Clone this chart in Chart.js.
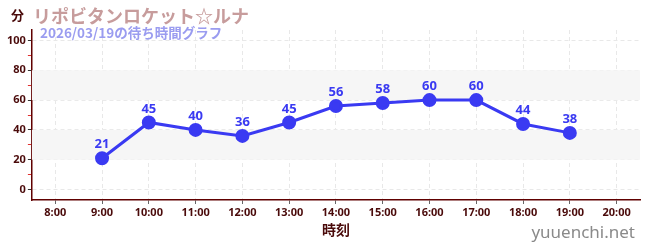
<!DOCTYPE html>
<html>
<head>
<meta charset="utf-8">
<script src="https://cdn.jsdelivr.net/npm/chart.js@4/dist/chart.umd.min.js"></script>
<style>
  body { margin: 0; background: #fff; font-family: "Noto Sans CJK JP", "Noto Sans", sans-serif; }
  #wrap { position: relative; width: 650px; height: 250px; }
  .lbl { position: absolute; white-space: nowrap; }
  #unit { left: 11px; top: 5px; font-size: 13px; font-weight: bold; color: #4a0a0a; }
  #title { left: 33px; top: 2px; font-size: 18px; font-weight: bold; color: #c79c9c; }
  #sub { left: 40px; top: 22px; font-size: 13.5px; font-weight: bold; color: #9a9cf0; }
  #site { right: 15px; top: 220px; font-size: 17px; color: #8a8a8a; font-family: "Noto Sans", sans-serif; }
</style>
</head>
<body>
<div id="wrap">
  <canvas id="line-chart" width="650" height="250"></canvas>
  <div class="lbl" id="unit">分</div>
  <div class="lbl" id="title">リポビタンロケット☆ルナ</div>
  <div class="lbl" id="sub">2026/03/19の待ち時間グラフ</div>
  <div class="lbl" id="site">yuuenchi.net</div>
</div>
<script>
// data
var hours = ["8:00", "9:00", "10:00", "11:00", "12:00", "13:00", "14:00", "15:00", "16:00", "17:00", "18:00", "19:00", "20:00"];
var waits = [null, 21, 45, 40, 36, 45, 56, 58, 60, 60, 44, 38, null];
var yTicks = [0, 10, 20, 30, 40, 50, 60, 70, 80, 90, 100];
var bands = [[20, 40], [60, 80]];

var dark = "#4a0a0a";
var blue = "#3a3af2";

// gray stripes behind the plot
var stripes = {
  id: "stripes",
  beforeDatasetsDraw: function(chart) {
    var ctx = chart.ctx, y = chart.scales.y, a = chart.chartArea;
    ctx.save();
    ctx.fillStyle = "#f6f6f6";
    bands.forEach(function(b) {
      var top = y.getPixelForValue(b[1]), bot = y.getPixelForValue(b[0]);
      ctx.fillRect(a.left, top, a.right - a.left, bot - top);
    });
    ctx.restore();
  }
};

// value labels above points
var valueLabels = {
  id: "valueLabels",
  afterDatasetsDraw: function(chart) {
    var ctx = chart.ctx;
    var meta = chart.getDatasetMeta(0);
    ctx.save();
    ctx.fillStyle = blue;
    ctx.font = "bold 13px 'Noto Sans', sans-serif";
    ctx.textAlign = "center";
    ctx.textBaseline = "bottom";
    meta.data.forEach(function(pt, i) {
      if (waits[i] == null) return;
      ctx.fillText(waits[i], pt.x, pt.y - 7);
    });
    ctx.restore();
  }
};

new Chart(document.getElementById("line-chart"), {
  type: 'line',
  data: {
    labels: hours,
    datasets: [{
      data: waits,
      borderColor: blue,
      backgroundColor: blue,
      borderWidth: 3,
      pointRadius: 5.5,
      pointHoverRadius: 5.5,
      spanGaps: false
    }]
  },
  options: {
    responsive: false,
    animation: false,
    layout: { padding: { top: 30, right: 10, left: 5, bottom: 9 } },
    plugins: {
      legend: { display: false },
      tooltip: { enabled: false }
    },
    scales: {
      x: {
        offset: true,
        grid: {
          color: "#e8e8e8",
          tickColor: "#666",
          tickLength: 4,
          offset: false
        },
        border: { color: "#600000", width: 1.5, dash: [4, 3] },
        ticks: {
          color: dark,
          font: { size: 11, weight: "bold", family: "'Noto Sans', sans-serif" },
          maxRotation: 0,
          autoSkip: false,
          padding: 2
        },
        title: {
          display: true,
          text: "時刻",
          color: dark,
          font: { size: 14, weight: "bold", family: "'Noto Sans CJK JP', sans-serif" },
          padding: { top: 0, bottom: 3 }
        }
      },
      y: {
        min: -7,
        max: 107,
        afterBuildTicks: function(axis) {
          axis.ticks = yTicks.map(function(v) { return { value: v }; });
        },
        border: { color: "#600000", width: 1.5, dash: [4, 3] },
        grid: {
          color: function(c) { return c.tick && c.tick.value % 20 === 0 ? "#e8e8e8" : "transparent"; },
          tickColor: function(c) { return c.tick && c.tick.value % 20 === 0 ? "#333" : "#e03030"; },
          tickLength: 4
        },
        ticks: {
          color: dark,
          font: { size: 11, weight: "bold", family: "'Noto Sans', sans-serif" },
          padding: 2,
          callback: function(v) { return v % 20 === 0 ? v : ""; }
        }
      }
    }
  },
  plugins: [stripes, valueLabels]
});
</script>
</body>
</html>
